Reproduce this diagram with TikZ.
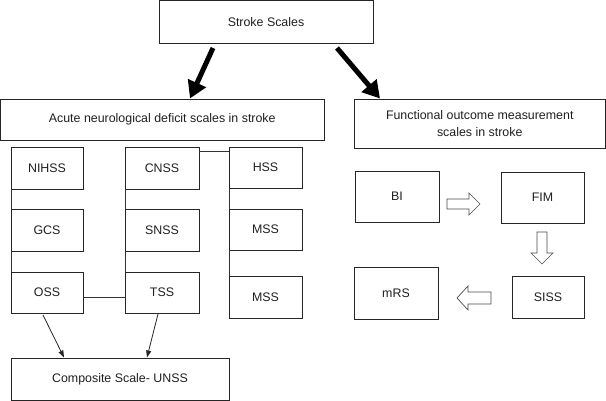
\documentclass[tikz,border=0pt]{standalone}
\usepackage{fontspec}
\setmainfont{Liberation Sans}
\usetikzlibrary{arrows.meta}
\begin{document}
\begin{tikzpicture}[x=1pt,y=-1pt,
  box/.style={draw=black!85, line width=0.8pt, rectangle, inner sep=0pt, outer sep=0pt, align=center,
    font=\fontsize{12.4}{17}\selectfont, text=black!88},
  link/.style={draw=black!80, line width=0.8pt},
  bigarrow/.style={draw=black, line width=5pt, -{Triangle[length=17pt,width=19pt]}},
  thinarrow/.style={draw=black!85, line width=0.8pt, -{Triangle[length=7pt,width=5pt]}},
  blockarrow/.style={draw=black!70, line width=0.7pt, fill=white}]
\useasboundingbox (0,0) rectangle (606,401);
% top
\node[box, minimum width=214pt, minimum height=42.5pt] (stroke) at (266,21.75) {Stroke Scales};
\node[box, minimum width=323.5pt, minimum height=41pt] (acute) at (162.25,119.5) {Acute neurological deficit scales in stroke};
\node[box, minimum width=251.5pt, minimum height=49pt] (func) at (479.75,123.5) {Functional outcome measurement\\scales in stroke};
\coordinate (a1s) at (213,48);
\coordinate (a1e) at (190,98.5);
\coordinate (a2s) at (337,48);
\coordinate (a2e) at (380,98.5);
\draw[bigarrow] (a1s) -- (a1e);
\draw[bigarrow] (a2s) -- (a2e);
% left group
\node[box, minimum width=72pt, minimum height=42pt] (nihss) at (47,168) {NIHSS};
\node[box, minimum width=72pt, minimum height=42pt] (gcs) at (47,230) {GCS};
\node[box, minimum width=72pt, minimum height=41pt] (oss) at (47,292.5) {OSS};
\node[box, minimum width=74pt, minimum height=42pt] (cnss) at (162,168) {CNSS};
\node[box, minimum width=74pt, minimum height=42pt] (snss) at (162,230) {SNSS};
\node[box, minimum width=74pt, minimum height=41pt] (tss) at (162,292.5) {TSS};
\node[box, minimum width=73pt, minimum height=41pt] (hss) at (265.5,167.5) {HSS};
\node[box, minimum width=73pt, minimum height=41pt] (mss1) at (265.5,229.5) {MSS};
\node[box, minimum width=73pt, minimum height=42pt] (mss2) at (265.5,297) {MSS};
\node[box, minimum width=218pt, minimum height=42pt] (comp) at (120,379) {Composite Scale- UNSS};
\draw[link] (nihss.south west) -- (gcs.north west);
\draw[link] (gcs.south west) -- (oss.north west);
\draw[link] (cnss.south west) -- (snss.north west);
\draw[link] (snss.south west) -- (tss.north west);
\draw[link] (hss.south west) -- (mss1.north west);
\draw[link] (mss1.south west) -- (mss2.north west);
\draw[link] ([yshift=-4.5pt]oss.east) -- ([yshift=-4.5pt]oss.east -| tss.west);
\draw[link] ([yshift=-4pt]cnss.north east) -- ([yshift=-4pt]cnss.north east -| hss.west);
\coordinate (t1s) at (43,315);
\coordinate (t1e) at (64,357.5);
\coordinate (t2s) at (158,314);
\coordinate (t2e) at (147,357.5);
\draw[thinarrow] (t1s) -- (t1e);
\draw[thinarrow] (t2s) -- (t2e);
% right group
\node[box, minimum width=84pt, minimum height=51pt] (bi) at (397,196.5) {BI};
\node[box, minimum width=83pt, minimum height=51pt] (fim) at (542.5,197.5) {FIM};
\node[box, minimum width=72pt, minimum height=42pt] (siss) at (548,297) {SISS};
\node[box, minimum width=84pt, minimum height=52pt] (mrs) at (396,293) {mRS};
\draw[blockarrow] (447,199) -- (469,199) -- (469,193) -- (480,204) -- (469,215) -- (469,209) -- (447,209) -- cycle;
\draw[blockarrow] (537,232) -- (547,232) -- (547,253) -- (553,253) -- (542,264) -- (531,253) -- (537,253) -- cycle;
\draw[blockarrow] (491,292) -- (468,292) -- (468,286) -- (457,298) -- (468,310) -- (468,304) -- (491,304) -- cycle;
\end{tikzpicture}
\end{document}
